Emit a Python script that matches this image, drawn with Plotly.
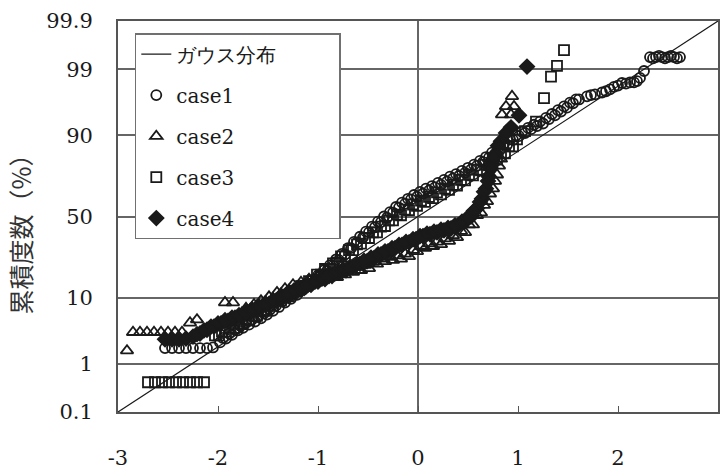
import plotly.graph_objects as go
from statistics import NormalDist

# Normal probability plot: x = standardised value, y = normal quantile (z) of the
# cumulative frequency; the y axis is labelled in percent.

pct_ticks = [0.1, 1, 10, 50, 90, 99, 99.9]
pct_labels = ["0.1", "1", "10", "50", "90", "99", "99.9"]
x_ticks = [-3, -2, -1, 0, 1, 2, 3]

# reference Gaussian line (percent at the two ends of the x range)
gauss_x = [-3, 3]
gauss_pct = [0.1, 99.9]

case1_x = [-2.53, -2.46, -2.39, -2.32, -2.25, -2.18, -2.11, -2.05,
           -1.98, -1.92, -1.86, -1.80, -1.75, -1.69, -1.63, -1.57, -1.51, -1.45,
           -1.39, -1.33, -1.27, -1.21, -1.15, -1.09, -1.03, -0.97, -0.91, -0.85,
           -0.79, -0.73, -0.67, -0.61, -0.55, -0.49, -0.43, -0.37, -0.31, -0.25,
           -0.19, -0.13, -0.07, -0.01, 0.05, 0.11, 0.17, 0.23, 0.29, 0.35, 0.41,
           0.47, 0.53, 0.59, 0.65, 0.71, 0.77, 0.83, 0.89, 0.95, 1.01, 1.07, 1.13,
           1.19, 1.25, 1.31, 1.37, 1.43, 1.49, 1.55, 1.61, 1.69, 1.77, 1.84, 1.92,
           2.00, 2.08, 2.16, 2.22, 2.26, 2.32, 2.38, 2.44, 2.50, 2.56, 2.62,
           -1.95, -1.89, -1.83, -1.78, -1.72, -1.66, -1.60, -1.54, -1.48, -1.42,
           -1.36, -1.30, -1.24, -1.18, -1.12, -1.06, -1.00, -0.94, -0.88, -0.82,
           -0.76, -0.70, -0.64, -0.58, -0.52, -0.46, -0.40, -0.34, -0.28, -0.22,
           -0.16, -0.10, -0.04, 0.02, 0.08, 0.14, 0.20, 0.26, 0.32, 0.38, 0.44,
           0.50, 0.56, 0.62, 0.68, 0.74, 0.80, 0.86, 0.92, 0.98, 1.04, 1.10, 1.16,
           1.22, 1.28, 1.34, 1.40, 1.46, 1.52, 1.58, 1.73, 1.88, 1.96, 2.04, 2.12,
           2.19, 2.35, 2.41, 2.47, 2.53, 2.59]
case1_z = [-2.08, -2.08, -2.08, -2.08, -2.08, -2.08, -2.08, -2.07,
           -1.99, -1.93, -1.87, -1.80, -1.76, -1.71, -1.66, -1.61, -1.55, -1.49,
           -1.43, -1.36, -1.30, -1.24, -1.16, -1.10, -1.02, -0.94, -0.86, -0.78,
           -0.69, -0.60, -0.50, -0.41, -0.33, -0.25, -0.17, -0.09, -0.02, 0.06,
           0.14, 0.20, 0.27, 0.31, 0.36, 0.41, 0.46, 0.50, 0.55, 0.60, 0.64,
           0.69, 0.74, 0.80, 0.86, 0.93, 0.99, 1.07, 1.13, 1.21, 1.27, 1.32, 1.38,
           1.43, 1.47, 1.54, 1.60, 1.66, 1.72, 1.79, 1.85, 1.90, 1.93, 1.96, 2.01,
           2.07, 2.10, 2.12, 2.19, 2.30, 2.52, 2.52, 2.52, 2.52, 2.52, 2.52,
           -1.92, -1.85, -1.79, -1.73, -1.68, -1.63, -1.58, -1.53, -1.47, -1.41,
           -1.34, -1.28, -1.22, -1.15, -1.08, -1.01, -0.93, -0.85, -0.77, -0.68,
           -0.59, -0.50, -0.40, -0.32, -0.24, -0.16, -0.08, 0.00, 0.07, 0.15,
           0.22, 0.28, 0.34, 0.39, 0.44, 0.48, 0.53, 0.58, 0.63, 0.67, 0.72,
           0.77, 0.82, 0.88, 0.94, 1.01, 1.08, 1.15, 1.22, 1.28, 1.34, 1.40, 1.45,
           1.50, 1.56, 1.62, 1.68, 1.74, 1.80, 1.85, 1.92, 1.98, 2.05, 2.11, 2.12,
           2.14, 2.50, 2.54, 2.50, 2.54, 2.50]

case2_x = [-2.91, -2.85, -2.78, -2.71, -2.64, -2.57, -2.50, -2.43, -2.36,
           -2.28, -2.21, -1.93, -1.85, -1.76, -1.68, -1.61, -1.53, -1.45, -1.37,
           -1.29, -1.21, -1.13, -1.05, -0.97, -0.89, -0.81, -0.73, -0.65, -0.57,
           -0.49, -0.41, -0.33, -0.25, -0.17, -0.09, -0.01, 0.07, 0.15, 0.23,
           0.31, 0.39, 0.47, 0.55, 0.63, 0.69, 0.75, 0.79, 0.83, 0.86, 0.84,
           0.93, 0.88, 0.96, 0.94,
           -1.72, -1.64, -1.57, -1.49, -1.41, -1.33, -1.25, -1.17, -1.09, -1.01,
           -0.93, -0.85, -0.77, -0.69, -0.61, -0.53, -0.45, -0.37, -0.29, -0.21,
           -0.13, -0.05, 0.03, 0.11, 0.19, 0.27, 0.35, 0.43, 0.51, 0.59, 0.66,
           0.72, 0.77, 0.81]
case2_z = [-2.12, -1.83, -1.83, -1.83, -1.83, -1.83, -1.83, -1.83, -1.83,
           -1.68, -1.63, -1.36, -1.36, -1.52, -1.47, -1.41, -1.35, -1.29, -1.22,
           -1.16, -1.11, -1.07, -1.02, -0.99, -0.97, -0.96, -0.92, -0.88, -0.85,
           -0.82, -0.75, -0.71, -0.69, -0.67, -0.63, -0.55, -0.50, -0.47, -0.44,
           -0.39, -0.33, -0.25, -0.13, 0.06, 0.24, 0.44, 0.66, 0.91, 1.22, 1.61,
           1.61, 1.74, 1.74, 1.90,
           -1.45, -1.39, -1.33, -1.27, -1.20, -1.14, -1.08, -1.04, -0.99, -0.95,
           -0.92, -0.90, -0.87, -0.83, -0.80, -0.77, -0.72, -0.67, -0.64, -0.62,
           -0.59, -0.53, -0.47, -0.43, -0.40, -0.35, -0.30, -0.23, -0.13, 0.02,
           0.18, 0.36, 0.56, 0.80]

case3_x = [-2.70, -2.63, -2.56, -2.49, -2.42, -2.35, -2.28, -2.21, -2.14,
           -2.03, -1.96, -1.88, -1.80, -1.72, -1.65, -1.57, -1.49, -1.41, -1.33,
           -1.25, -1.17, -1.09, -1.01, -0.93, -0.85, -0.77, -0.69, -0.61, -0.53,
           -0.45, -0.37, -0.29, -0.21, -0.13, -0.05, 0.03, 0.11, 0.19, 0.27,
           0.35, 0.43, 0.51, 0.59, 0.67, 0.75, 0.83, 0.91, 0.99, 1.07, 1.18,
           1.26, 1.33, 1.39, 1.46,
           -1.99, -1.92, -1.84, -1.76, -1.69, -1.61, -1.53, -1.45, -1.37, -1.29,
           -1.21, -1.13, -1.05, -0.97, -0.89, -0.81, -0.73, -0.65, -0.57, -0.49,
           -0.41, -0.33, -0.25, -0.17, -0.09, -0.01, 0.07, 0.15, 0.23, 0.31,
           0.39, 0.47, 0.55, 0.63, 0.71, 0.79, 0.87, 0.95]
case3_z = [-2.62, -2.62, -2.62, -2.62, -2.62, -2.62, -2.62, -2.62, -2.62,
           -1.88, -1.82, -1.76, -1.69, -1.63, -1.57, -1.49, -1.41, -1.33, -1.25,
           -1.18, -1.10, -1.02, -0.92, -0.83, -0.74, -0.63, -0.53, -0.44, -0.34,
           -0.25, -0.16, -0.06, 0.03, 0.11, 0.19, 0.25, 0.31, 0.38, 0.44,
           0.50, 0.58, 0.66, 0.74, 0.82, 0.91, 1.00, 1.11, 1.22, 1.35, 1.50,
           1.87, 2.21, 2.38, 2.63,
           -1.88, -1.82, -1.76, -1.70, -1.64, -1.57, -1.49, -1.41, -1.33, -1.26,
           -1.18, -1.10, -1.01, -0.92, -0.83, -0.73, -0.63, -0.53, -0.43, -0.34,
           -0.25, -0.15, -0.06, 0.02, 0.10, 0.17, 0.23, 0.29, 0.35, 0.42,
           0.49, 0.57, 0.65, 0.73, 0.81, 0.90, 1.00, 1.11]

case4_x = [-2.53, -2.46, -2.39, -2.32, -2.25, -2.18, -2.11, -2.04, -1.97,
           -1.90, -1.83, -1.76, -1.69, -1.63, -1.56, -1.49, -1.42, -1.35, -1.28,
           -1.21, -1.14, -1.07, -1.00, -0.93, -0.86, -0.79, -0.72, -0.65, -0.58,
           -0.51, -0.44, -0.37, -0.30, -0.23, -0.16, -0.09, -0.02, 0.05, 0.12,
           0.19, 0.26, 0.33, 0.40, 0.47, 0.53, 0.59, 0.64, 0.68, 0.71, 0.74,
           0.78, 0.83, 0.93, 1.01, 1.09,
           -2.21, -2.14, -2.07, -2.00, -1.93, -1.86, -1.79, -1.72, -1.66, -1.59,
           -1.52, -1.45, -1.38, -1.31, -1.24, -1.17, -1.10, -1.03, -0.96, -0.89,
           -0.82, -0.75, -0.68, -0.61, -0.54, -0.47, -0.40, -0.33, -0.26, -0.19,
           -0.12, -0.05, 0.02, 0.09, 0.16, 0.23, 0.30, 0.37, 0.44, 0.50, 0.56,
           0.62, 0.66, 0.70, 0.73, 0.76, 0.80, 0.88]
case4_z = [-1.94, -1.94, -1.94, -1.93, -1.90, -1.85, -1.79, -1.74, -1.69,
           -1.65, -1.60, -1.57, -1.52, -1.47, -1.43, -1.38, -1.33, -1.27, -1.22,
           -1.18, -1.13, -1.08, -1.03, -0.99, -0.94, -0.89, -0.85, -0.80, -0.75,
           -0.71, -0.66, -0.60, -0.55, -0.50, -0.45, -0.41, -0.36, -0.31, -0.28,
           -0.25, -0.22, -0.19, -0.14, -0.08, 0.00, 0.13, 0.28, 0.44, 0.63, 0.82,
           0.99, 1.19, 1.41, 1.60, 2.37,
           -1.86, -1.80, -1.74, -1.69, -1.64, -1.60, -1.56, -1.51, -1.47, -1.42,
           -1.38, -1.33, -1.27, -1.22, -1.17, -1.13, -1.08, -1.03, -0.98, -0.94,
           -0.89, -0.84, -0.80, -0.75, -0.70, -0.65, -0.60, -0.55, -0.50, -0.45,
           -0.40, -0.36, -0.31, -0.27, -0.24, -0.21, -0.18, -0.14, -0.08, -0.01,
           0.09, 0.23, 0.39, 0.56, 0.76, 0.93, 1.12, 1.32]

nd = NormalDist()


def pct_to_z(p):
    return nd.inv_cdf(p / 100.0)


z_ticks = [pct_to_z(p) for p in pct_ticks]
z_lo, z_hi = z_ticks[0], z_ticks[-1]

INK = "#1a1a1a"
GRID = "#666666"
SERIF = "DejaVu Serif"
NBSP = "\u00a0"

fig = go.Figure()

fig.add_trace(go.Scatter(
    x=gauss_x, y=[pct_to_z(p) for p in gauss_pct], mode="lines",
    name="ガウス分布" + NBSP * 9, legendgroup="g0",
    line=dict(color=INK, width=1.2),
))

marker_line = dict(color=INK, width=1.8)
series = [
    ("case1", case1_x, case1_z, "circle-open", 10),
    ("case2", case2_x, case2_z, "triangle-up-open", 11),
    ("case3", case3_x, case3_z, "square-open", 10),
    ("case4", case4_x, case4_z, "diamond", 11),
]
for i, (name, xs, zs, sym, size) in enumerate(series, start=1):
    fig.add_trace(go.Scatter(
        x=xs, y=zs, mode="markers", name=name, legendgroup=f"g{i}",
        marker=dict(symbol=sym, size=size, color=INK, line=marker_line),
    ))

fig.update_layout(
    width=723, height=473,
    margin=dict(l=118, r=3, t=21, b=57),
    paper_bgcolor="white", plot_bgcolor="white",
    font=dict(family=SERIF, size=20, color=INK),
    showlegend=True,
    legend=dict(
        x=0.028, y=0.969, xanchor="left", yanchor="top",
        bgcolor="white", bordercolor="#707070", borderwidth=1.5,
        font=dict(family=SERIF, size=20, color=INK),
        traceorder="grouped", tracegroupgap=12,
    ),
    xaxis=dict(
        range=[-3, 3], tickvals=x_ticks,
        ticktext=[str(v) for v in x_ticks],
        showgrid=False,
        zeroline=True, zerolinecolor=GRID, zerolinewidth=1.5,
        showline=True, linecolor="#555555", linewidth=1.8, mirror=True,
        ticks="inside", ticklen=6, tickwidth=1, tickcolor="#555555",
        ticklabelstandoff=26,
        tickfont=dict(family=SERIF, size=21, color=INK),
    ),
    yaxis=dict(
        range=[z_lo, z_hi], tickvals=z_ticks, ticktext=pct_labels,
        showgrid=True, gridcolor=GRID, gridwidth=1.7,
        zeroline=False,
        showline=True, linecolor="#555555", linewidth=1.8, mirror=True,
        ticks="", ticklabelstandoff=19,
        tickfont=dict(family=SERIF, size=21, color=INK),
    ),
    annotations=[dict(
        text="累積度数（%）", xref="paper", yref="paper",
        x=-0.163, y=0.47, xanchor="center", yanchor="middle",
        textangle=-90, showarrow=False,
        font=dict(family="Noto Sans CJK JP", size=25, color="#333333"),
    )],
)

fig.write_html("out.html")
